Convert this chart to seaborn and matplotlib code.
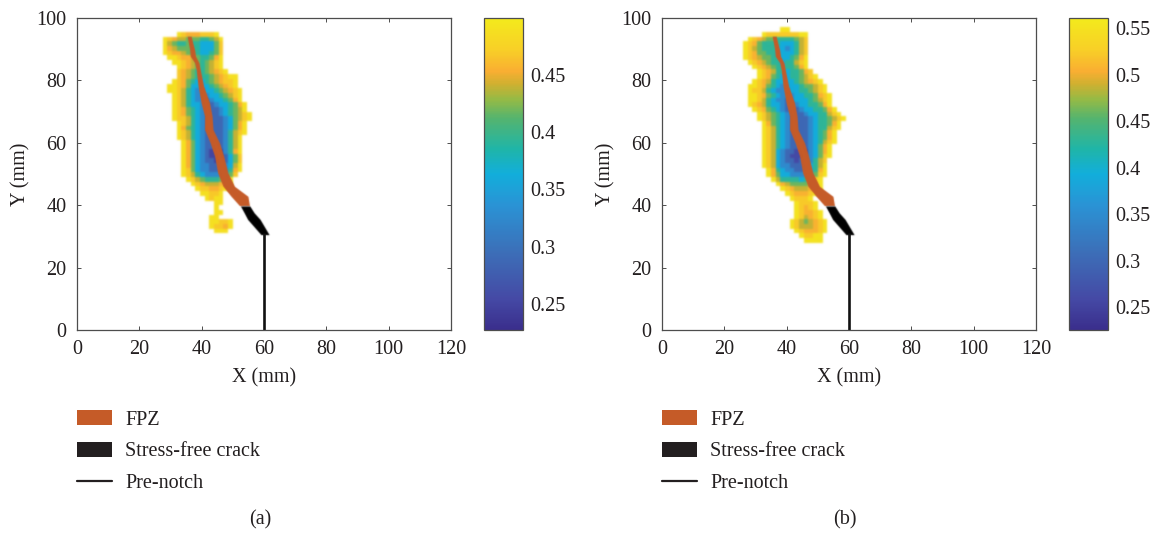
import numpy as np
import pandas as pd
import seaborn as sns
import matplotlib.pyplot as plt
from matplotlib.colors import LinearSegmentedColormap
from matplotlib.lines import Line2D
from matplotlib.patches import Patch

# damage field, read off the picture as colour levels ('.' = empty)
# rows go top to bottom from y=97, columns left to right from x=26, 1.5 mm cells
rows_a = [
    "......................",
    "....987778889",
    ".9876655544569",
    ".9654454433358",
    ".9765554433358",
    ".9877655433458",
    "..998776544579",
    "...99876545689",
    "....9876545689",
    "....87654456789",
    "....8765444567899",
    "...98754334567889",
    "..998753333456789",
    "..9986432233456789",
    "...986432223345689",
    "...986432212334579",
    "...9864332112334579",
    "...9875432111234569",
    "...98754321112345689",
    "...98864321111235689",
    "....986432111123579",
    "....975432111123579",
    "....986432111124689",
    "....98643211112469",
    ".....9753211112469",
    ".....9753211012469",
    ".....9753210002479",
    ".....9753210001358",
    ".....9753211011358",
    ".....9753221112369",
    ".....9853221122479",
    ".....986432222358",
    "......9865444579",
    ".......987666789",
    "........98877899",
    ".........99889",
    "..........9899",
    "............99",
    "............9",
    "............99",
    "...........99",
    "...........99889",
    "...........98879",
    "............999",
]
rows_b = [
    "........99",
    "....9888888899",
    ".9876554444568",
    "98754444333468",
    "98654443323468",
    "98755443333468",
    "98765544334579",
    ".9876544344689",
    "..987654444579",
    "...987644344578",
    "...9875433445689",
    "..987643333456789",
    ".99875432333455689",
    ".98864322233445689",
    ".998754322233445789",
    ".998643221233345689",
    ".987643321123344579",
    "..987543211123344579",
    "...986543211123344689",
    "...9865432111123445689",
    "....97543211112344579",
    "....98643211112344689",
    "....9864321111234579",
    "....9864321111234579",
    "....9864321111234689",
    "....986432110123579",
    "....986321100023579",
    "....986321000123589",
    "....98632110112468",
    "....98632211123469",
    ".....9743221123479",
    ".....9753322223589",
    "......96444434689",
    ".......9765555689",
    "........987666789",
    ".........9877789",
    "..........98889",
    "...........98889",
    "...........98789",
    "...........987789",
    "...........986789",
    "..........98656789",
    "..........98666789",
    "...........9877789",
    "............98899",
    ".............9999",
]
# value of each colour level 0..9
levels_a = [0.250, 0.287, 0.325, 0.362, 0.393, 0.418, 0.440, 0.454, 0.468, 0.490]
levels_b = [0.259, 0.299, 0.346, 0.391, 0.429, 0.460, 0.487, 0.506, 0.524, 0.551]

range_a = (0.2273, 0.4997)
range_b = (0.2253, 0.5608)
ticks_a = [0.25, 0.3, 0.35, 0.4, 0.45]
ticks_b = [0.25, 0.3, 0.35, 0.4, 0.45, 0.5, 0.55]

# crack outlines in mm
fpz_y = [94.0, 91.9, 89.7, 87.6, 85.5, 83.3, 78.0, 72.6, 68.4, 64.1, 59.8, 55.6, 50.2, 45.9, 42.7, 39.7]
fpz_left = [35.5, 35.9, 36.3, 36.5, 37.9, 38.4, 39.0, 40.0, 41.1, 41.1, 42.9, 44.3, 45.3, 47.0, 49.6, 52.3]
fpz_right = [36.8, 37.3, 37.9, 38.2, 39.3, 39.7, 40.8, 42.7, 43.5, 43.8, 45.9, 47.2, 48.6, 50.7, 55.0, 55.5]
crack_y = [39.6, 37.4, 35.3, 30.4]
crack_left = [52.6, 53.8, 54.9, 59.2]
crack_right = [55.6, 57.0, 58.9, 61.8]
notch_x = [60, 60]
notch_y = [0, 31]

x_ticks = [0, 20, 40, 60, 80, 100, 120]
y_ticks = [0, 20, 40, 60, 80, 100]
legend_labels = ["FPZ", "Stress-free crack", "Pre-notch"]

parula = LinearSegmentedColormap.from_list("parula_like", [
    (0.00, "#3a2e8c"), (0.10, "#454aa5"), (0.25, "#3c6fb8"), (0.40, "#2a93d5"),
    (0.50, "#12aedb"), (0.58, "#1fb5a8"), (0.68, "#55b46e"), (0.74, "#95ba45"),
    (0.79, "#d0b030"), (0.83, "#f9ae32"), (0.90, "#f8cf27"), (1.00, "#f3ea1c"),
])

sns.set_theme(style="white")
plt.rcParams["font.family"] = ["Liberation Serif", "DejaVu Serif"]
plt.rcParams["text.color"] = "#231f20"
plt.rcParams["axes.labelcolor"] = "#231f20"
plt.rcParams["xtick.labelcolor"] = "#231f20"
plt.rcParams["ytick.labelcolor"] = "#231f20"

W, H = 1162, 535
CELL = 1.5
X_START = -1.0  # so that a cell edge falls on x=26
N_COLS = 82
N_ROWS = 67
FS = 14.5
EDGE = "#4d4d4d"


def px_box(left, right, top, bottom):
    return [left / W, 1 - bottom / H, (right - left) / W, (bottom - top) / H]


def to_cx(x):
    return (np.asarray(x, float) - X_START) / CELL


def to_cy(y):
    return (100 - np.asarray(y, float)) / CELL


def soft(sigma):
    # the source is a soft scan: blur the drawn pixels a little
    half = int(3 * sigma) + 1
    kernel = np.exp(-0.5 * (np.arange(-half, half + 1) / sigma) ** 2)
    kernel /= kernel.sum()

    def run(image, dpi):
        img = np.pad(image, ((half, half), (half, half), (0, 0)))
        img[..., :3] *= img[..., 3:]
        for axis in (0, 1):
            img = np.apply_along_axis(np.convolve, axis, img, kernel, mode="same")
        img[..., :3] /= np.maximum(img[..., 3:], 1e-4)
        return np.clip(img, 0, 1), -half, -half
    return run


def build_grid(rows, levels):
    grid = np.full((N_ROWS, N_COLS), np.nan)
    for j, row in enumerate(rows):
        for i, ch in enumerate(row):
            if ch != ".":
                # row 0 starts at y=97, column 0 at x=26
                grid[j + 2, i + 18] = levels[int(ch)]
    return pd.DataFrame(grid)


def draw_panel(left, rows, levels, vrange, cticks, caption):
    ax = fig.add_axes(px_box(left, left + 374, 18, 330))
    cax = fig.add_axes(px_box(left + 407, left + 446, 18, 330))
    sns.heatmap(build_grid(rows, levels), ax=ax, cbar_ax=cax, cmap=parula,
                vmin=vrange[0], vmax=vrange[1], xticklabels=False, yticklabels=False)
    ax.collections[0].set_agg_filter(soft(1.0))

    for poly in ax.fill(to_cx(fpz_left + fpz_right[::-1]), to_cy(fpz_y + fpz_y[::-1]), color="#c55b28", lw=0):
        poly.set_agg_filter(soft(0.6))
    for poly in ax.fill(to_cx(crack_left + crack_right[::-1]), to_cy(crack_y + crack_y[::-1]), color="black", lw=0):
        poly.set_agg_filter(soft(0.6))
    ax.plot(to_cx(notch_x), to_cy(notch_y), color="#111111", lw=1.9, solid_capstyle="butt")

    ax.set_xlim(to_cx(0), to_cx(120))
    ax.set_ylim(to_cy(0), to_cy(100))
    ax.set_xticks(to_cx(x_ticks))
    ax.set_xticklabels([str(v) for v in x_ticks], rotation=0)
    ax.set_yticks(to_cy(y_ticks))
    ax.set_yticklabels([str(v) for v in y_ticks], rotation=0)
    ax.tick_params(direction="in", length=3, width=0.7, color=EDGE, labelsize=FS, top=True, right=True,
                   bottom=True, left=True)
    ax.tick_params(axis="x", pad=7)
    ax.tick_params(axis="y", pad=7.5)
    ax.set_xlabel("X (mm)", fontsize=FS, labelpad=6.5)
    ax.set_ylabel("Y (mm)", fontsize=FS, labelpad=4)
    for sp in ax.spines.values():
        sp.set_visible(True)
        sp.set_color(EDGE)
        sp.set_linewidth(0.9)

    cbar = ax.collections[0].colorbar
    cbar.set_ticks(cticks)
    cbar.set_ticklabels([f"{v:g}" for v in cticks])
    cax.tick_params(direction="in", length=2.5, width=0.7, color="#333333", labelsize=FS, pad=5)
    cbar.outline.set_visible(True)
    cbar.outline.set_edgecolor(EDGE)
    cbar.outline.set_linewidth(0.9)

    handles = [Patch(color="#c55b28", lw=0), Patch(color="#231f20", lw=0),
               Line2D([], [], color="#231f20", lw=1.6)]
    fig.legend(handles, legend_labels, loc="upper left",
               bbox_to_anchor=(left / W, 1 - 410 / H), frameon=False, fontsize=FS,
               handlelength=1.74, handleheight=0.8, handletextpad=0.65, labelspacing=0.6,
               borderpad=0, borderaxespad=0)
    fig.text((left + 183) / W, 1 - 520 / H, caption, ha="center", va="center", fontsize=FS)


fig = plt.figure(figsize=(W / 100, H / 100), dpi=100)
draw_panel(77, rows_a, levels_a, range_a, ticks_a, "(a)")
draw_panel(662, rows_b, levels_b, range_b, ticks_b, "(b)")
fig.savefig("out.png", dpi=100)
